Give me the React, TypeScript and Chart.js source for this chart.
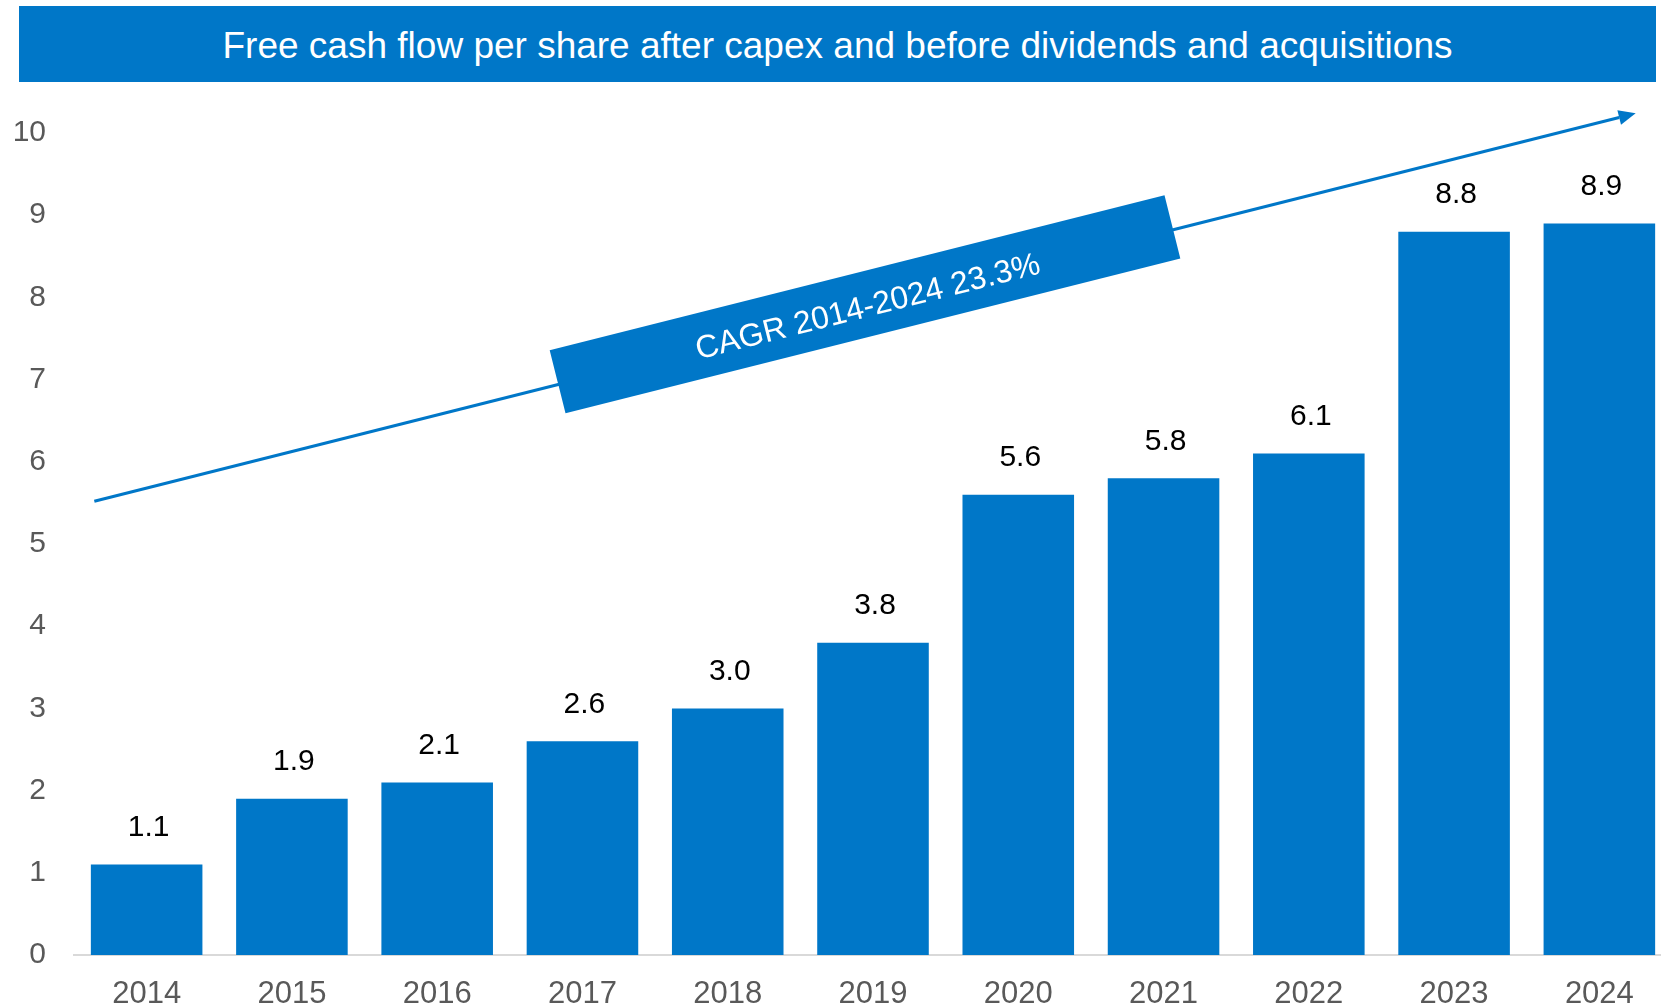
import React, { useEffect, useRef } from "react";
import { Chart, registerables } from "chart.js";

Chart.register(...registerables);

const TITLE = "Free cash flow per share after capex and before dividends and acquisitions";
const YEARS = ["2014", "2015", "2016", "2017", "2018", "2019", "2020", "2021", "2022", "2023", "2024"];
const FCF_PER_SHARE = [1.1, 1.9, 2.1, 2.6, 3.0, 3.8, 5.6, 5.8, 6.1, 8.8, 8.9];
const Y_MIN = 0;
const Y_MAX = 10;
const Y_STEP = 1;
const CAGR_LABEL = "CAGR 2014-2024 23.3%";
// trend arrow endpoints in data units (category index, value)
const TREND_START = { x: -0.36, y: 5.52 };
const TREND_END = { x: 10.25, y: 10.24 };

const BLUE = "#0077C8";
const FONT = '"Liberation Sans", Arial, sans-serif';

const valueLabelPlugin = {
  id: "valueLabels",
  afterDatasetsDraw(chart: any) {
    const { ctx } = chart;
    const meta = chart.getDatasetMeta(0);
    const data = chart.data.datasets[0].data as number[];
    ctx.save();
    ctx.font = `30px ${FONT}`;
    ctx.fillStyle = "#000000";
    ctx.textAlign = "center";
    ctx.textBaseline = "middle";
    meta.data.forEach((el: any, i: number) => {
      ctx.fillText(data[i].toFixed(1), el.x + 2, el.y - 37);
    });
    ctx.restore();
  },
};

const trendPlugin = {
  id: "trendArrow",
  afterDraw(chart: any) {
    const { ctx } = chart;
    const xs = chart.scales.x;
    const ys = chart.scales.y;
    const x1 = xs.getPixelForValue(TREND_START.x);
    const y1 = ys.getPixelForValue(TREND_START.y);
    const x2 = xs.getPixelForValue(TREND_END.x);
    const y2 = ys.getPixelForValue(TREND_END.y);
    const ang = Math.atan2(y2 - y1, x2 - x1);
    const c = Math.cos(ang);
    const s = Math.sin(ang);
    const head = 17;
    const hw = 7.5;
    const bx = x2 - head * c;
    const by = y2 - head * s;
    ctx.save();
    ctx.strokeStyle = BLUE;
    ctx.fillStyle = BLUE;
    ctx.lineWidth = 3;
    ctx.beginPath();
    ctx.moveTo(x1, y1);
    ctx.lineTo(bx, by);
    ctx.stroke();
    ctx.beginPath();
    ctx.moveTo(x2, y2);
    ctx.lineTo(bx + hw * s, by - hw * c);
    ctx.lineTo(bx - hw * s, by + hw * c);
    ctx.closePath();
    ctx.fill();
    // label box
    const cx = (x1 + x2) / 2;
    const cy = (y1 + y2) / 2 - 3;
    ctx.translate(cx, cy);
    ctx.rotate(ang);
    ctx.fillRect(-317, -32.5, 634, 65);
    ctx.fillStyle = "#ffffff";
    ctx.font = `32px ${FONT}`;
    ctx.textAlign = "center";
    ctx.textBaseline = "middle";
    ctx.fillText(CAGR_LABEL, 2, 4);
    ctx.restore();
  },
};

export default function App() {
  const canvasRef = useRef<HTMLCanvasElement | null>(null);

  useEffect(() => {
    const canvas = canvasRef.current;
    if (!canvas) return;
    const chart = new Chart(canvas, {
      type: "bar",
      data: {
        labels: YEARS,
        datasets: [
          {
            data: FCF_PER_SHARE,
            backgroundColor: BLUE,
            borderWidth: 0,
            categoryPercentage: 1,
            barPercentage: 0.768,
          },
        ],
      },
      options: {
        responsive: false,
        animation: false,
        devicePixelRatio: 1,
        layout: { padding: { top: 133, right: 18, left: 0, bottom: 0 } },
        plugins: {
          legend: { display: false },
          title: { display: false },
          tooltip: { enabled: false },
        },
        scales: {
          x: {
            grid: { display: false, drawTicks: false },
            border: { display: true, color: "#D9D9D9", width: 2 },
            ticks: {
              color: "#595959",
              font: { family: FONT, size: 31 },
              padding: 21,
              maxRotation: 0,
            },
            afterFit(scale: any) {
              scale.height = 52;
            },
          },
          y: {
            min: Y_MIN,
            max: Y_MAX,
            grid: { display: false, drawTicks: false },
            border: { display: false },
            ticks: {
              stepSize: Y_STEP,
              color: "#595959",
              font: { family: FONT, size: 30 },
              padding: 28,
            },
            afterFit(scale: any) {
              scale.width = 74;
            },
          },
        },
      },
      plugins: [valueLabelPlugin, trendPlugin],
    });
    return () => chart.destroy();
  }, []);

  return (
    <div
      style={{
        position: "absolute",
        left: 0,
        top: 0,
        width: 1661,
        height: 1007,
        overflow: "hidden",
        background: "#ffffff",
      }}
    >
      <div
        style={{
          position: "absolute",
          left: 19,
          top: 6,
          width: 1637,
          height: 76,
          background: BLUE,
          color: "#ffffff",
          fontFamily: FONT,
          fontSize: 37,
          lineHeight: "80px",
          textAlign: "center",
          whiteSpace: "nowrap",
          overflow: "hidden",
        }}
      >
        {TITLE}
      </div>
      <canvas
        ref={canvasRef}
        width={1690}
        height={1007}
        style={{ position: "absolute", left: 0, top: 0, width: 1690, height: 1007 }}
      />
    </div>
  );
}
